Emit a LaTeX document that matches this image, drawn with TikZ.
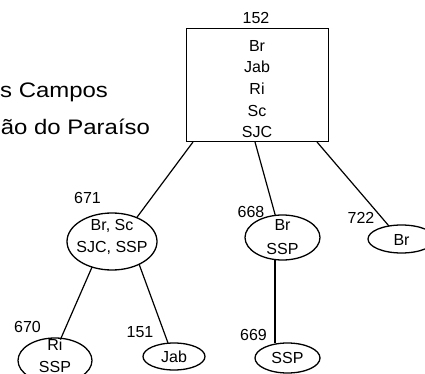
\documentclass[tikz,border=0pt]{standalone}
\usepackage{fontspec}
\usepackage{graphicx}
\setmainfont{Liberation Sans}
\usetikzlibrary{shapes.geometric,calc}
\begin{document}
\begin{tikzpicture}[x=1pt,y=-1pt,
  every node/.style={font=\fontsize{16}{19}\selectfont, inner sep=0pt, outer sep=0pt},
  ell/.style={draw, ellipse, line width=1.3pt},
  boxst/.style={draw, rectangle, line width=1pt},
  txt/.style={anchor=base},
  big/.style={anchor=base east, font=\fontsize{21}{25}\selectfont},
  edge/.style={line width=1.2pt}]
\useasboundingbox (0,0) rectangle (425,374);
\clip (0,0) rectangle (425,374);

% left text
\node[big] (c1) at (108,98) {\scalebox{1.14}[1]{s Campos}};
\node[big] (c2) at (150,135) {\scalebox{1.14}[1]{ão do Paraíso}};

% root box
\node[boxst, minimum width=142pt, minimum height=113pt] (box) at (257,85.5) {};
\node[txt] (l152) at (256,24) {152};
\node[txt] (b1) at (257,51.5) {Br};
\node[txt] (b2) at (257,73) {Jab};
\node[txt] (b3) at (257,95) {Ri};
\node[txt] (b4) at (257,116.5) {Sc};
\node[txt] (b5) at (257,138) {SJC};

% 671
\node[ell, minimum width=90pt, minimum height=57pt] (e671) at (112,241.5) {};
\node[txt] (l671) at (87.5,203) {671};
\node[txt] (t671a) at (112,230) {Br, Sc};
\node[txt] (t671b) at (112,252) {SJC, SSP};

% 668
\node[ell, minimum width=75pt, minimum height=45pt] (e668) at (282.5,237.5) {};
\node[txt] (l668) at (251,217) {668};
\node[txt] (t668a) at (282.5,230) {Br};
\node[txt] (t668b) at (282.5,254) {SSP};

% 722
\node[ell, minimum width=67pt, minimum height=28pt] (e722) at (401.5,239) {};
\node[txt] (l722) at (361,223) {722};
\node[txt] (t722) at (401.5,245) {Br};

% 670
\node[ell, minimum width=74pt, minimum height=45pt] (e670) at (55,360.5) {};
\node[txt] (l670) at (27.5,332) {670};
\node[txt] (t670a) at (55,350) {Ri};
\node[txt] (t670b) at (55,372) {SSP};

% 151
\node[ell, minimum width=62pt, minimum height=27pt] (e151) at (174,356.5) {};
\node[txt] (l151) at (140,337) {151};
\node[txt] (t151) at (174,362) {Jab};

% 669
\node[ell, minimum width=65pt, minimum height=30pt] (e669) at (287.5,358) {};
\node[txt] (l669) at (253.5,340) {669};
\node[txt] (t669) at (287.5,363) {SSP};

% connectors
\draw[edge] ($(box.south west)+(7,0)$) -- (e671.44);
\draw[edge] ($(box.south)+(-2,0)$) -- (e668.108);
\draw[edge] ($(box.south east)+(-11,0)$) -- (e722.134);
\draw[edge] (e671.232) -- (e670.75);
\draw[edge] (e671.-40) -- (e151.114);
\draw[edge] (e668.251) -- (e668.251 |- e669.north);
\end{tikzpicture}
\end{document}
